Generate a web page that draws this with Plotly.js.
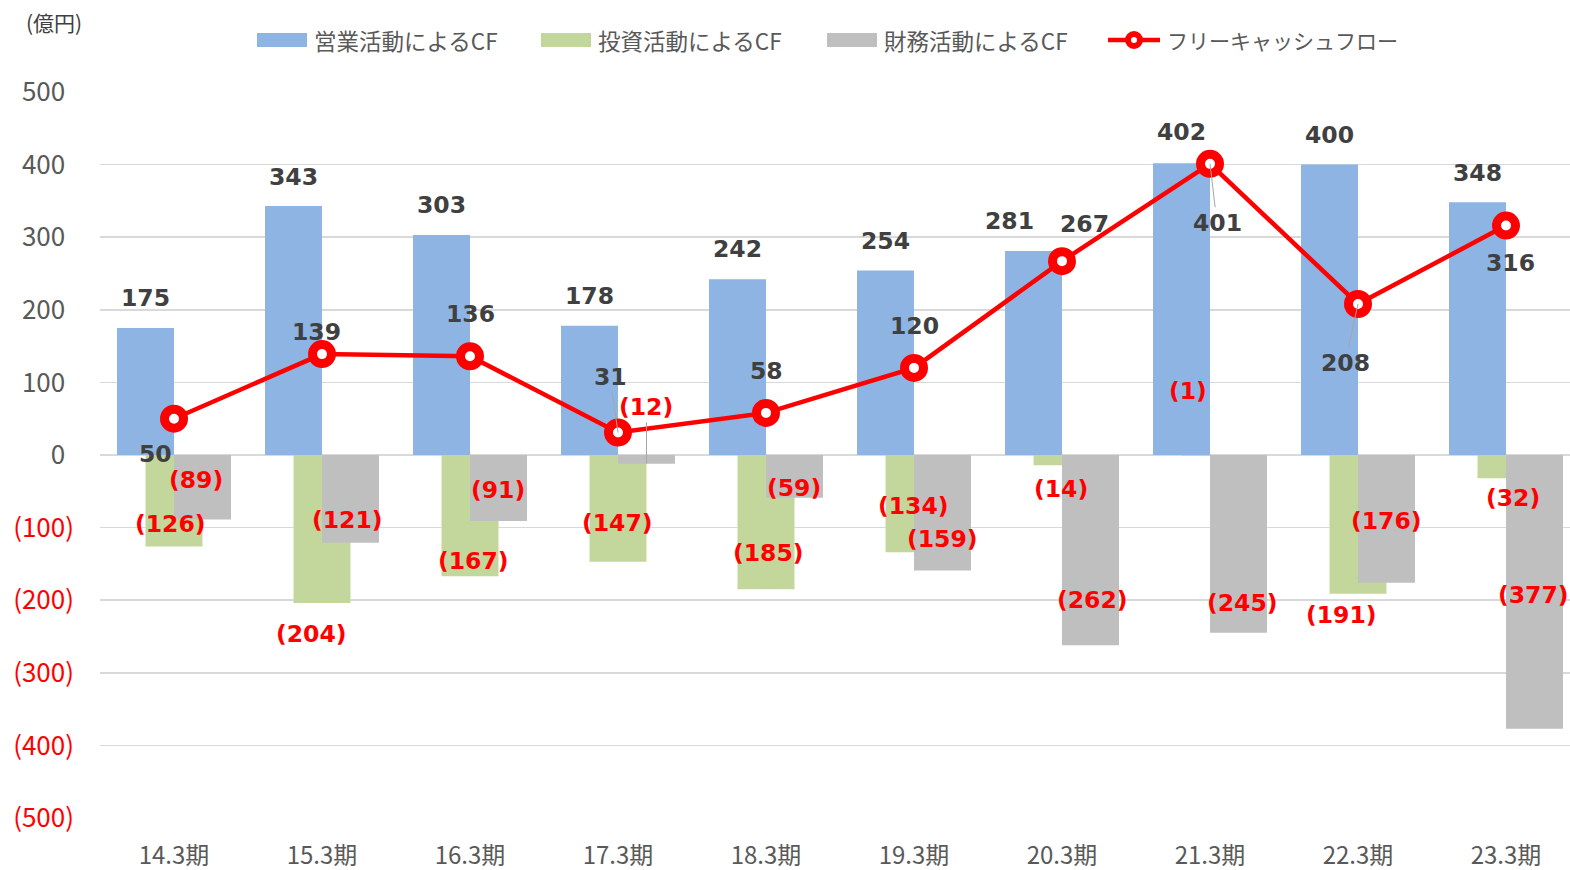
<!DOCTYPE html>
<html>
<head>
<meta charset="utf-8">
<script src="https://cdn.plot.ly/plotly-3.0.1.min.js"></script>
<style>
  html, body { margin: 0; padding: 0; background: #ffffff; }
  #chart { width: 1570px; height: 870px; }
</style>
</head>
<body>
<div id="chart"></div>
<script>
// ---------- data ----------
const categories = ['14.3期', '15.3期', '16.3期', '17.3期', '18.3期', '19.3期', '20.3期', '21.3期', '22.3期', '23.3期'];
const operatingCF = [175, 343, 303, 178, 242, 254, 281, 402, 400, 348];
const investingCF = [-126, -204, -167, -147, -185, -134, -14, -1, -191, -32];
const financingCF = [-89, -121, -91, -12, -59, -159, -262, -245, -176, -377];
const freeCF = [50, 139, 136, 31, 58, 120, 267, 401, 208, 316];
const seriesNames = ['営業活動によるCF', '投資活動によるCF', '財務活動によるCF', 'フリーキャッシュフロー'];
const yTickValues = [500, 400, 300, 200, 100, 0, -100, -200, -300, -400, -500];
const unitLabel = '(億円)';

// ---------- label placement (pixel offsets from each mark's end) ----------
const opLabelOffsets = [[0,-30],[0,-29],[0,-30],[0,-30],[0,-30],[0,-30],[-24,-30],[0,-31],[0,-30],[0,-29]];
const invLabelOffsets = [[-4,-22],[-11,31],[3,-15],[-1,-39],[2,-36],[-1,-46],[-1,24],[-22,-65],[-17,21],[7,20]];
const finLabelOffsets = [[-6,-40],[-3,-23],[0,-31],[0,-57],[0,-10],[0,-31],[2,-45],[4,-30],[0,-62],[-1,-134]];
const fcfLabelOffsets = [[-19,35],[-6,-22],[0,-42],[-8,-55],[0,-42],[0,-42],[22,-37],[7,59],[-13,59],[4,37]];
const finLeader = [false,false,false,true,false,false,false,false,false,false];
const fcfLeader = [false,false,false,true,false,false,false,true,true,false];

// ---------- styles ----------
const BLUE = '#8eb4e3', GREEN = '#c3d69b', GRAY = '#bfbfbf', RED = '#ff0000';
const TXT = '#595959', DARK = '#404040';
const JP = '"Noto Sans CJK JP", "Noto Sans", sans-serif';
const BOLD = '"DejaVu Sans", Verdana, sans-serif';
const BARW = 0.385;
const idx = categories.map((_, i) => i);

// plot-area geometry in pixels (for legend placement in paper coords)
const ML = 100, MT = 92, MB = 52, W = 1570, H = 870;
const PW = W - ML, PH = H - MT - MB;
const px = p => (p - ML) / PW;
const py = p => (H - MB - p) / PH;

function fmt(v) { return v < 0 ? '(' + Math.abs(v) + ')' : String(v); }
const HIDDEN_PAREN = '<span style="color:rgba(0,0,0,0)">)</span>';

const traces = [
  { type: 'bar', name: seriesNames[0], x: idx, y: operatingCF, width: BARW, offset: -BARW,
    marker: { color: BLUE }, hoverinfo: 'skip' },
  { type: 'bar', name: seriesNames[1], x: idx, y: investingCF, width: BARW, offset: -BARW / 2,
    marker: { color: GREEN }, hoverinfo: 'skip' },
  { type: 'bar', name: seriesNames[2], x: idx, y: financingCF, width: BARW, offset: 0,
    marker: { color: GRAY }, hoverinfo: 'skip' },
  { type: 'scatter', mode: 'lines+markers', name: seriesNames[3], x: idx, y: freeCF,
    line: { color: RED, width: 4.5 },
    marker: { size: 19, color: '#ffffff', line: { color: RED, width: 9 } }, hoverinfo: 'skip' }
];

const annotations = [];
function addLabels(values, xoff, offsets, leaders, colorFn) {
  values.forEach((v, i) => {
    const lead = leaders ? leaders[i] : false;
    annotations.push({
      x: i + xoff, y: v, xref: 'x', yref: 'y',
      text: fmt(v),
      showarrow: true, ax: offsets[i][0], ay: offsets[i][1],
      arrowhead: 0, arrowwidth: 1,
      arrowcolor: lead ? '#a6a6a6' : 'rgba(0,0,0,0)',
      standoff: 0, startstandoff: 0,
      font: { family: BOLD, size: 23.5, color: colorFn(v), weight: 'bold' }
    });
  });
}
const col = v => v < 0 ? RED : DARK;
addLabels(operatingCF, -BARW / 2, opLabelOffsets, null, col);
addLabels(investingCF, 0, invLabelOffsets, null, () => RED);
addLabels(financingCF, BARW / 2, finLabelOffsets, finLeader, col);
addLabels(freeCF, 0, fcfLabelOffsets, fcfLeader, col);

// unit label
annotations.push({ xref: 'paper', yref: 'paper', x: px(24), y: py(22), xanchor: 'left', yanchor: 'middle',
  text: unitLabel, showarrow: false, font: { family: JP, size: 21, color: DARK } });

// custom legend (Excel-style wide swatches)
const shapes = [];
const legendSwatches = [[257, BLUE], [541, GREEN], [827, GRAY]];
legendSwatches.forEach(([x0, c], k) => {
  shapes.push({ type: 'rect', xref: 'paper', yref: 'paper', x0: px(x0), x1: px(x0 + 50), y0: py(47), y1: py(33),
    fillcolor: c, line: { width: 0 } });
  annotations.push({ xref: 'paper', yref: 'paper', x: px(x0 + 55), y: py(40), xanchor: 'left', yanchor: 'middle',
    text: seriesNames[k], showarrow: false, font: { family: JP, size: 22.5, color: TXT } });
});
shapes.push({ type: 'line', xref: 'paper', yref: 'paper', x0: px(1108), x1: px(1160), y0: py(40), y1: py(40),
  line: { color: RED, width: 4.5 } });
shapes.push({ type: 'circle', xref: 'paper', yref: 'paper', x0: px(1128), x1: px(1140), y0: py(46), y1: py(34),
  fillcolor: '#ffffff', line: { color: RED, width: 6 } });
annotations.push({ xref: 'paper', yref: 'paper', x: px(1165), y: py(40), xanchor: 'left', yanchor: 'middle',
  text: seriesNames[3], showarrow: false, font: { family: JP, size: 21, color: TXT } });

const layout = {
  width: W, height: H,
  margin: { l: ML, r: 0, t: MT, b: MB, pad: 0 },
  paper_bgcolor: '#ffffff', plot_bgcolor: '#ffffff',
  barmode: 'overlay',
  showlegend: false,
  font: { family: JP, color: TXT },
  xaxis: {
    type: 'linear', range: [-0.5, -0.5 + PW / 148],
    tickvals: idx, ticktext: categories,
    showgrid: false, zeroline: false, showline: false,
    ticks: '', ticklabelstandoff: 21,
    tickfont: { family: JP, size: 24, color: TXT }
  },
  yaxis: {
    range: [-500, 500],
    tickvals: yTickValues,
    ticktext: yTickValues.map(v => v < 0 ? '<span style="color:#ff0000">' + fmt(v) + '</span>' : fmt(v) + HIDDEN_PAREN),
    showgrid: true, gridcolor: '#d9d9d9', gridwidth: 1.5,
    zeroline: true, zerolinecolor: '#d9d9d9', zerolinewidth: 2,
    showline: false, ticks: '', ticklabelstandoff: 25,
    tickfont: { family: JP, size: 26, color: TXT }
  },
  annotations: annotations,
  shapes: shapes
};

Plotly.newPlot('chart', traces, layout, { displayModeBar: false, staticPlot: true });
</script>
</body>
</html>
